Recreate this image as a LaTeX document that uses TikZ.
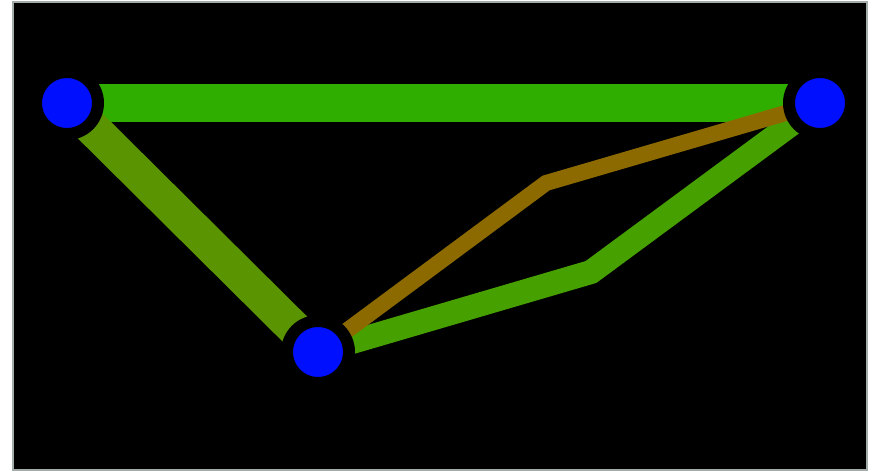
\documentclass[tikz,border=0pt]{standalone}
\usetikzlibrary{backgrounds}
\definecolor{topgreen}{HTML}{2FAE00}
\definecolor{leftgreen}{HTML}{5A9400}
\definecolor{lowgreen}{HTML}{46A000}
\definecolor{ochre}{HTML}{8C6A00}
\definecolor{vertexblue}{HTML}{0010FF}
\definecolor{framegray}{HTML}{A3ABAB}
\begin{document}
\begin{tikzpicture}[x=0.03cm, y=-0.03cm,
    vertex/.style={circle, fill=vertexblue, draw=black, line width=0.36cm,
                   inner sep=0pt, minimum size=1.86cm},
    edge/.style={line width=#1}]
            \useasboundingbox (0,0) rectangle (872,473);
            % vertices
            \node[vertex] (a) at (67,103) {};
            \node[vertex] (b) at (820,103) {};
            \node[vertex] (c) at (318,352) {};
            \coordinate (upper bend) at (546,183);
            \coordinate (lower bend) at (591,272);
            \begin{scope}[on background layer]
                \draw[fill=black, draw=framegray, line width=0.06cm] (13,2) rectangle (867,470);
                % edges
                \draw[edge=1.14cm, topgreen] (a.center) -- (b.center);
                \draw[edge=1.05cm, leftgreen] (a.center) -- (c.center);
                \draw[edge=0.72cm, lowgreen] (c.center) -- (lower bend) -- (b.center);
                \draw[edge=0.48cm, ochre] (c.center) -- (upper bend) -- (b.center);
            \end{scope}
        \end{tikzpicture}
\end{document}
